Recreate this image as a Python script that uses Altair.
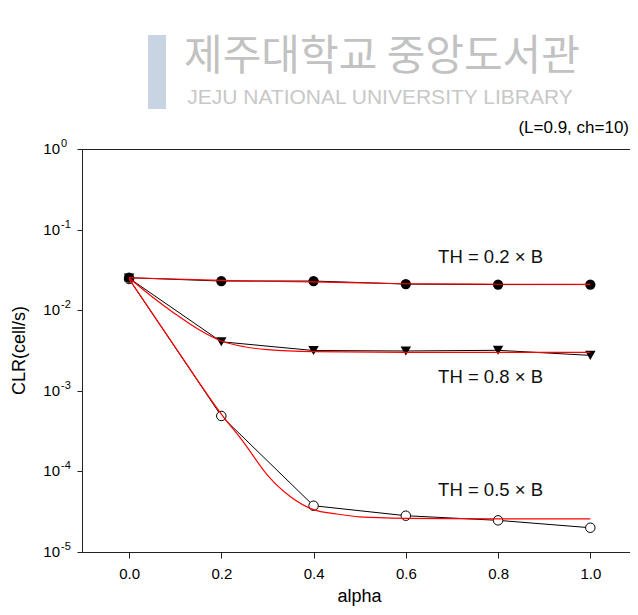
import altair as alt
import pandas as pd

# ---- measured data (black lines with markers) ----
alpha = [0.0, 0.2, 0.4, 0.6, 0.8, 1.0]
clr_th02 = [0.0253, 0.0230, 0.0230, 0.0211, 0.0208, 0.0208]
clr_th08 = [0.0250, 0.00406, 0.00316, 0.00312, 0.00318, 0.00275]
clr_th05 = [0.0244, 0.000487, 3.75e-5, 2.82e-5, 2.47e-5, 2.0e-5]

# ---- fitted curves (red) ----
fit_alpha_02 = [0.0, 0.2, 0.4, 0.6, 0.8, 1.0]
fit_th02 = [0.0253, 0.0234, 0.0224, 0.0213, 0.0210, 0.0209]
fit_alpha_08 = [0.0, 0.05, 0.1, 0.15, 0.2, 0.25, 0.3, 0.4, 0.6, 0.8, 1.0]
fit_th08 = [0.0251, 0.0147, 0.0090, 0.0058, 0.00415, 0.00352, 0.00324, 0.00306, 0.00300, 0.00300, 0.00300]
fit_alpha_05 = [0.0, 0.1, 0.2, 0.25, 0.3, 0.35, 0.4, 0.45, 0.5, 0.6, 0.8, 1.0]
fit_th05 = [0.0244, 0.00349, 0.000515, 0.000223, 9.0e-5, 4.85e-5, 3.35e-5, 2.96e-5, 2.73e-5, 2.62e-5, 2.57e-5, 2.57e-5]

# ---- axis ticks / labels ----
x_ticks = [0.0, 0.2, 0.4, 0.6, 0.8, 1.0]
y_ticks = [1.0, 0.1, 0.01, 0.001, 0.0001, 0.00001]
y_exponents = ["0", "-1", "-2", "-3", "-4", "-5"]

# ---- annotations ----
label_text = ["TH  = 0.2 × B", "TH  = 0.8 × B", "TH  = 0.5 × B"]
label_alpha = [0.67, 0.67, 0.67]
label_clr = [0.0457, 0.0015, 5.9e-5]
subtitle = ["(L=0.9, ch=10)"]
watermark_kr = ["제주대학교 중앙도서관"]
watermark_en = ["JEJU NATIONAL UNIVERSITY  LIBRARY"]

FONT = "Liberation Sans"

meas = pd.concat([
    pd.DataFrame({"series": "0.2", "alpha": alpha, "clr": clr_th02}),
    pd.DataFrame({"series": "0.8", "alpha": alpha, "clr": clr_th08}),
    pd.DataFrame({"series": "0.5", "alpha": alpha, "clr": clr_th05}),
])
fit = pd.concat([
    pd.DataFrame({"series": "0.2", "alpha": fit_alpha_02, "clr": fit_th02}),
    pd.DataFrame({"series": "0.8", "alpha": fit_alpha_08, "clr": fit_th08}),
    pd.DataFrame({"series": "0.5", "alpha": fit_alpha_05, "clr": fit_th05}),
])
labels = pd.DataFrame({"t": label_text, "alpha": label_alpha, "clr": label_clr})
yt = pd.DataFrame({"clr": y_ticks, "e": y_exponents})

xscale = alt.Scale(domain=[-0.102, 1.086], nice=False, zero=False)
yscale = alt.Scale(type="log", domain=[1e-5, 1], nice=False)

X = alt.X(
    "alpha:Q", scale=xscale,
    axis=alt.Axis(values=x_ticks, format=".1f", title="alpha", tickSize=6,
                  labelFontSize=15, labelPadding=8, titleFontSize=18,
                  titleFontWeight="normal", titleX=277, titleY=49,
                  titleBaseline="alphabetic", titleAlign="center",
                  grid=False, domainColor="#222", tickColor="#222",
                  labelColor="#000", titleColor="#000", labelFont=FONT,
                  titleFont=FONT),
)
Y = alt.Y(
    "clr:Q", scale=yscale,
    axis=alt.Axis(values=y_ticks, labels=False, title="CLR(cell/s)", tickSize=5,
                  titleFontSize=18, titleFontWeight="normal", titleAngle=270,
                  titleX=-63, titleY=201, titleAlign="center",
                  titleBaseline="middle", grid=False, domainColor="#222",
                  tickColor="#222", titleColor="#000", titleFont=FONT),
)

black_lines = alt.Chart(meas).mark_line(color="black", strokeWidth=1).encode(
    x=X, y=Y, detail="series:N")

filled_circ = alt.Chart(meas[meas.series == "0.2"]).mark_point(
    shape="circle", filled=True, color="black", size=105, opacity=1).encode(x=X, y=Y)
tri = alt.Chart(meas[meas.series == "0.8"]).mark_point(
    shape="triangle-down", filled=True, color="black", size=110, opacity=1).encode(x=X, y=Y)
open_circ = alt.Chart(meas[meas.series == "0.5"]).mark_point(
    shape="circle", filled=True, fill="white", stroke="black", strokeWidth=1,
    size=90, opacity=1).encode(x=X, y=Y)

red_lines = alt.Chart(fit).mark_line(color="#ff0000", strokeWidth=1.2,
                                     interpolate="monotone").encode(
    x=X, y=Y, detail="series:N")

txt = alt.Chart(labels).mark_text(align="left", baseline="middle", fontSize=18.5,
                                  font=FONT, color="#111").encode(
    x=X, y=Y, text="t:N")

ylab_base = alt.Chart(yt).mark_text(align="right", baseline="middle", fontSize=15,
                                    font=FONT, color="#000").encode(
    x=alt.value(-22), y=Y, text=alt.value("10"))
ylab_exp = alt.Chart(yt).mark_text(align="left", baseline="middle", fontSize=11,
                                   font=FONT, color="#000", dy=-5).encode(
    x=alt.value(-21), y=Y, text="e:N")

sub = alt.Chart(pd.DataFrame({"t": subtitle})).mark_text(
    align="right", baseline="middle", fontSize=17, font=FONT, color="#000").encode(
    x=alt.value(547), y=alt.value(-21), text="t:N")

logo_bar = alt.Chart(pd.DataFrame({"k": [1]})).mark_rect(
    color="#c3cfe0", opacity=0.9).encode(
    x=alt.value(66), x2=alt.value(84), y=alt.value(-114), y2=alt.value(-40))

wm_kr = alt.Chart(pd.DataFrame({"t": watermark_kr})).mark_text(
    align="center", baseline="middle", fontSize=42, font="Noto Sans CJK KR",
    color="#c2c2c2").encode(x=alt.value(300), y=alt.value(-92), text="t:N")
wm_en = alt.Chart(pd.DataFrame({"t": watermark_en})).mark_text(
    align="center", baseline="middle", fontSize=21, font=FONT,
    color="#c8c8c8").encode(x=alt.value(298), y=alt.value(-51), text="t:N")

chart = alt.layer(
    black_lines, open_circ, filled_circ, tri, red_lines, txt,
    ylab_base, ylab_exp, sub, logo_bar, wm_kr, wm_en,
).properties(
    width=548, height=403,
    background="white",
    autosize=alt.AutoSizeParams(type="none"),
    padding={"left": 74, "top": 141, "right": 0, "bottom": 55},
).configure_view(stroke="#222", strokeWidth=1)

chart.save("out.html", embed_options={"renderer": "svg", "actions": False})
